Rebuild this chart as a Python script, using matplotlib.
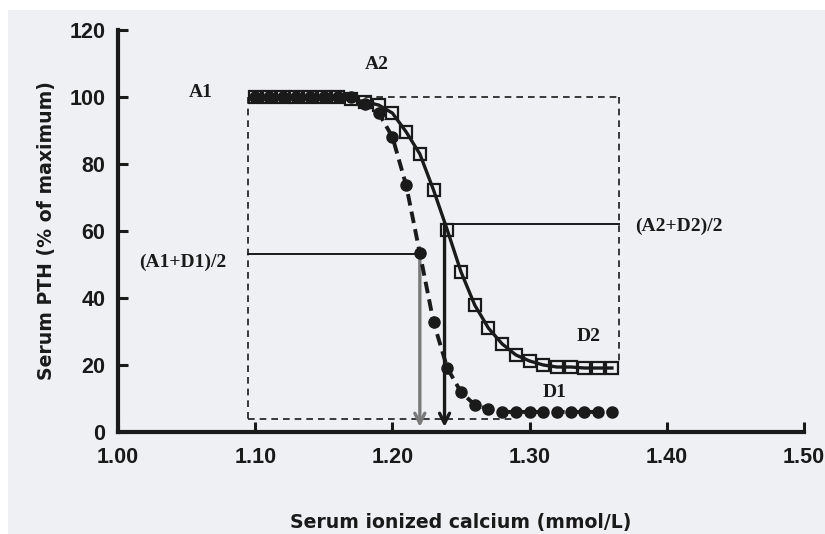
import matplotlib.pyplot as plt
import numpy as np
from matplotlib.patches import Rectangle

# serum ionized calcium (mmol/L)
calcium = [1.10, 1.11, 1.12, 1.13, 1.14, 1.15, 1.16, 1.17, 1.18, 1.19,
           1.20, 1.21, 1.22, 1.23, 1.24, 1.25, 1.26, 1.27, 1.28, 1.29,
           1.30, 1.31, 1.32, 1.33, 1.34, 1.35, 1.36]
# open squares, solid fitted curve
pth_squares = [100, 100, 100, 100, 100, 100, 100, 99.3, 98.6, 97.6,
               95.2, 89.6, 83.0, 72.2, 60.3, 47.8, 37.9, 31.0, 26.3, 23.0,
               21.2, 20.0, 19.4, 19.4, 19.1, 19.1, 19.1]
# filled circles, dashed curve
pth_circles = [100, 100, 100, 100, 100, 100, 100, 100, 98.0, 95.2,
               88.1, 73.7, 53.4, 32.8, 19.1, 11.9, 8.1, 6.9, 6.0, 6.0,
               6.0, 6.0, 6.0, 6.0, 6.0, 6.0, 6.0]

# plateau / nadir levels and set-points
A_level = 100
D1_level = 4
D2_level = 20
x_left, x_right = 1.095, 1.365
x_d1_end = 1.29
mid1_level, mid1_x = 53, 1.220
mid2_level, mid2_x = 62, 1.238

xticks = [1.00, 1.10, 1.20, 1.30, 1.40, 1.50]
yticks = [0, 20, 40, 60, 80, 100, 120]

ink = '#1a1a1a'

fig = plt.figure(figsize=(8.25, 5.34), dpi=100)
fig.patch.set_facecolor('white')
fig.patches.append(Rectangle((8 / 825, 0), 1, 1 - 10 / 534, transform=fig.transFigure,
                             facecolor='#eef0f3', edgecolor='none', zorder=-10))

ax = fig.add_axes([118 / 825, 1 - 432 / 534, (804 - 118) / 825, (432 - 30) / 534])
ax.patch.set_alpha(0)
ax.set_xlim(1.00, 1.50)
ax.set_ylim(0, 120)

for s in ['top', 'right']:
    ax.spines[s].set_visible(False)
for s in ['left', 'bottom']:
    ax.spines[s].set_linewidth(3)
    ax.spines[s].set_color(ink)

ax.set_xticks(xticks)
ax.set_xticklabels(['%.2f' % t for t in xticks])
ax.set_yticks(yticks)
ax.tick_params(direction='in', length=7, width=2.2, color=ink)
ax.tick_params(axis='x', pad=11)
ax.tick_params(axis='y', pad=9)
for lab in ax.get_xticklabels() + ax.get_yticklabels():
    lab.set_family('Liberation Sans')
    lab.set_fontweight('bold')
    lab.set_fontsize(15.5)
    lab.set_color(ink)

ax.set_xlabel('Serum ionized calcium (mmol/L)', fontsize=13.6, fontweight='bold',
              labelpad=32, color=ink)
ax.set_ylabel('Serum PTH (% of maximum)', fontsize=13.6, fontweight='bold',
              labelpad=10, color=ink)

# dashed frame marking the plateaus
dash = dict(color=ink, lw=1.2, dashes=(4, 3), zorder=1)
ax.plot([x_left, x_right], [A_level, A_level], **dash)
ax.plot([x_right, x_right], [A_level, D2_level], **dash)
ax.plot([x_left, x_left], [A_level, D1_level], **dash)
ax.plot([x_left, x_d1_end], [D1_level, D1_level], **dash)

# half-maximal levels and set-points
ax.plot([x_left, mid1_x], [mid1_level, mid1_level], color=ink, lw=1.4, zorder=2)
ax.plot([mid2_x, x_right], [mid2_level, mid2_level], color=ink, lw=1.4, zorder=2)
ax.annotate('', xy=(mid1_x, 1.5), xytext=(mid1_x, mid1_level),
            arrowprops=dict(arrowstyle='->', color='#7a7a7a', lw=2.4,
                            mutation_scale=18, shrinkA=0, shrinkB=0), zorder=2)
ax.annotate('', xy=(mid2_x, 1.5), xytext=(mid2_x, mid2_level),
            arrowprops=dict(arrowstyle='->', color=ink, lw=2.4,
                            mutation_scale=18, shrinkA=0, shrinkB=0), zorder=2)

# the two curves
ax.plot(calcium, pth_squares, color=ink, lw=2.4, marker='s', ms=8,
        mfc='none', mec=ink, mew=1.6, zorder=3)
ax.plot(calcium, pth_circles, color=ink, lw=2.8, dashes=(3, 1.6),
        marker='o', ms=8, mfc=ink, mec=ink, zorder=4)

serif = dict(family='Liberation Serif', fontweight='bold', fontsize=14,
             color=ink, ha='center', va='center')
ax.text(1.060, 101.2, 'A1', **serif)
ax.text(1.189, 109.6, 'A2', **serif)
ax.text(1.047, 50.7, '(A1+D1)/2', **serif)
ax.text(1.409, 61.5, '(A2+D2)/2', **serif)
ax.text(1.343, 28.4, 'D2', **serif)
ax.text(1.318, 11.9, 'D1', **serif)

fig.savefig('out.png', dpi=100, facecolor=fig.get_facecolor())
